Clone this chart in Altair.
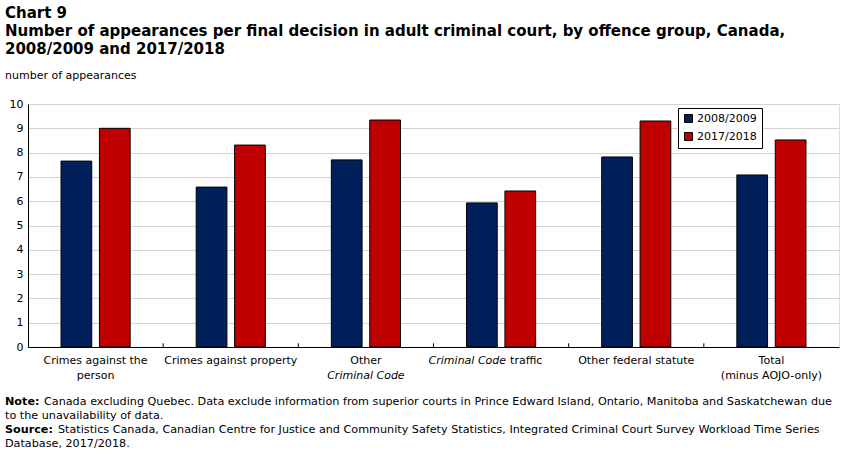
import altair as alt
import pandas as pd

# Offence groups (x categories) and the two reference years
categories = [
    "Crimes against the person",
    "Crimes against property",
    "Other Criminal Code",
    "Criminal Code traffic",
    "Other federal statute",
    "Total (minus AOJO-only)",
]
periods = ["2008/2009", "2017/2018"]

# Appearances per final decision
values_2008 = [7.65, 6.58, 7.70, 5.93, 7.82, 7.08]
values_2017 = [9.00, 8.31, 9.34, 6.42, 9.30, 8.52]

y_ticks = list(range(0, 11))

# Category label pieces (normal and italic parts)
plain_labels = {
    "Crimes against the person": "Crimes against the\nperson",
    "Crimes against property": "Crimes against property",
    "Other Criminal Code": "Other",
    "Other federal statute": "Other federal statute",
    "Total (minus AOJO-only)": "Total\n(minus AOJO-only)",
}
italic_second_line = {"Other Criminal Code": "Criminal Code"}
traffic_italic = {"Criminal Code traffic": "Criminal Code"}
traffic_plain = {"Criminal Code traffic": "traffic"}

title_lines = [
    "Chart 9",
    "Number of appearances per final decision  in adult criminal  court, by offence group, Canada,",
    "2008/2009 and 2017/2018",
]
y_title = "number of appearances"

note_head = "Note:"
note_line1 = ("Canada excluding Quebec. Data exclude information from superior courts in Prince Edward "
              "Island, Ontario, Manitoba and Saskatchewan due")
note_line2 = "to the unavailability of data."
source_head = "Source:"
source_line1 = ("Statistics Canada, Canadian Centre for Justice and Community Safety Statistics, "
                "Integrated Criminal Court Survey Workload Time Series")
source_line2 = "Database, 2017/2018."

FONT = "DejaVu Sans"
W, H = 811, 243

rows = []
for c, a, b in zip(categories, values_2008, values_2017):
    rows.append({"category": c, "period": periods[0], "value": a})
    rows.append({"category": c, "period": periods[1], "value": b})
df = pd.DataFrame(rows)

x_scale = alt.Scale(domain=categories, paddingInner=0, paddingOuter=0)
y_scale = alt.Scale(domain=[0, 10], nice=False)
y_axis = alt.Axis(values=y_ticks, title=None, ticks=False, labelPadding=5,
                  labelOverlap=False, labelFont=FONT, labelFontSize=11, labelColor="black",
                  domainColor="black", grid=True, gridColor="#d4d4d4", gridWidth=1)

bars = alt.Chart(df).mark_bar(stroke="black", strokeWidth=1).encode(
    x=alt.X("category:N", sort=categories, scale=x_scale,
            axis=alt.Axis(labels=False, ticks=False, title=None,
                          domainColor="black", domainWidth=1, grid=False)),
    xOffset=alt.XOffset("period:N", sort=periods,
                        scale=alt.Scale(domain=periods, paddingInner=0.2, paddingOuter=0.86)),
    y=alt.Y("value:Q", scale=y_scale, axis=y_axis),
    color=alt.Color("period:N", sort=periods,
                    scale=alt.Scale(domain=periods, range=["#00205b", "#c00000"]),
                    legend=alt.Legend(title=None, orient="none", legendX=650, legendY=4,
                                      direction="vertical", fillColor="white",
                                      strokeColor="black", padding=5,
                                      symbolType="square", symbolSize=64,
                                      symbolStrokeColor="black", symbolStrokeWidth=1,
                                      symbolOpacity=1, labelFont=FONT, labelFontSize=11,
                                      labelColor="black", rowPadding=5, labelOffset=3)),
)

# Small inward tick marks at the category boundaries
boundary_ticks = alt.Chart(pd.DataFrame({"category": categories[1:]})).transform_calculate(
    tick_lo="0", tick_hi="0.15"
).mark_rule(color="black", strokeWidth=1).encode(
    x=alt.X("category:N", sort=categories, scale=x_scale, bandPosition=0),
    y=alt.Y("tick_lo:Q", scale=y_scale, axis=y_axis),
    y2="tick_hi:Q",
)

def cat_text(mapping, y, style="normal", align="center", dx=0):
    d = pd.DataFrame({"category": list(mapping.keys()), "label": list(mapping.values())})
    return alt.Chart(d).mark_text(
        font=FONT, fontSize=11, fontStyle=style, color="black", align=align,
        baseline="top", lineBreak="\n", lineHeight=15, dx=dx
    ).encode(
        x=alt.X("category:N", sort=categories, scale=x_scale),
        y=alt.value(y),
        text="label:N",
    )

labels = [
    cat_text(plain_labels, H + 8),
    cat_text(italic_second_line, H + 23, style="italic"),
    cat_text(traffic_italic, H + 8, style="italic", align="right", dx=5),
    cat_text(traffic_plain, H + 8, align="left", dx=9),
]

def free_text(txt, x, y, weight="normal"):
    return alt.Chart(pd.DataFrame({"t": [txt]})).mark_text(
        font=FONT, fontSize=11.2, fontWeight=weight, color="black",
        align="left", baseline="top"
    ).encode(x=alt.value(x), y=alt.value(y), text="t:N")

foot = [
    free_text(note_head, -23, 292, "bold"),
    free_text(note_line1, 16, 292),
    free_text(note_line2, -23, 306),
    free_text(source_head, -23, 320, "bold"),
    free_text(source_line1, 30, 320),
    free_text(source_line2, -23, 334),
]

chart = alt.layer(bars, boundary_ticks, *labels, *foot).properties(
    width=W, height=H,
    padding={"left": 28, "top": 104, "right": 12, "bottom": 107},
    autosize=alt.AutoSizeParams(type="none"),
    title=alt.Title(
        text=title_lines, subtitle=y_title, anchor="start", frame="group", dx=-23,
        font=FONT, fontSize=15, fontWeight="bold", color="black", lineHeight=18,
        subtitleFont=FONT, subtitleFontSize=11, subtitleColor="black",
        subtitlePadding=13, offset=17,
    ),
).configure_view(stroke="black", strokeWidth=1).configure(background="white")

chart.save("out.html", embed_options={"renderer": "svg", "actions": False})
